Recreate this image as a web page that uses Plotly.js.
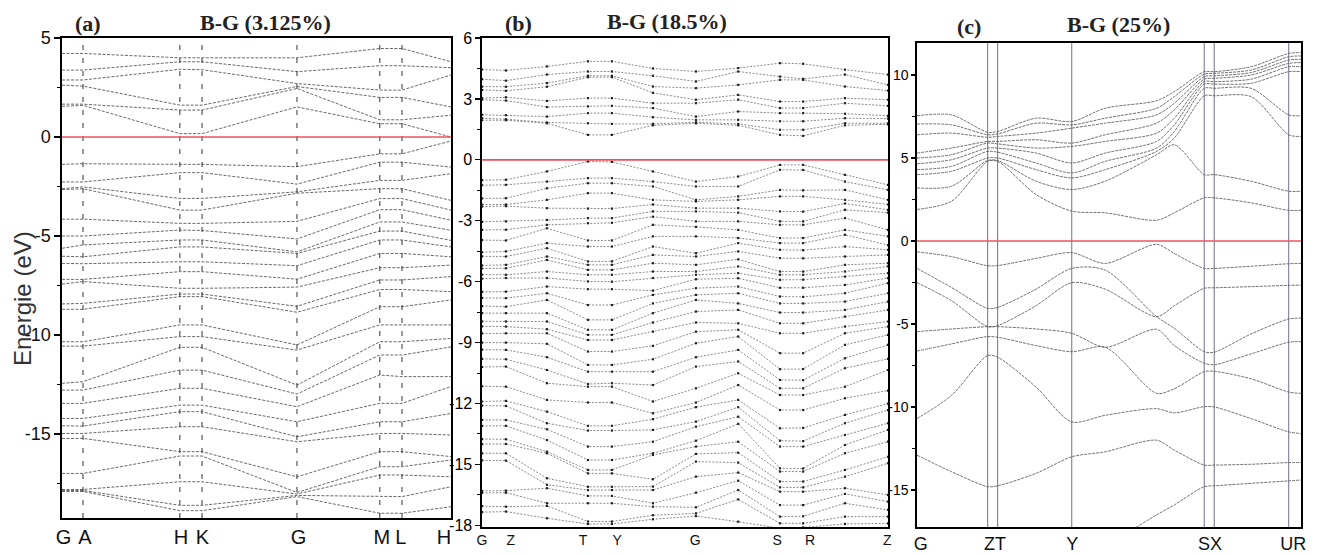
<!DOCTYPE html>
<html><head><meta charset="utf-8">
<script src="https://cdn.plot.ly/plotly-3.0.1.min.js"></script>
<style>html,body{margin:0;padding:0;background:#fff}#chart{width:1318px;height:555px}</style>
</head><body><div id="chart"></div>
<script>
// ---------------- DATA ----------------
const fermiLevel = 0;

// Panel (a)  B-G (3.125%)
const kA = [0, 0.054, 0.303, 0.360, 0.604, 0.817, 0.874, 1.0];
const labelPosA = [0.004, 0.059, 0.306, 0.361, 0.608, 0.822, 0.871, 0.982];
const labelsA = ['G','A','H','K','G','M','L','H'];
const eA_G1 = [4.22,3.38,2.88,2.62,1.66,1.55,-1.38,-2.27,-2.61,-2.66,-4.15,-5.0,-5.62,-6.02,-6.38,-7.19,-7.43,-8.43,-8.70,-10.34,-10.56,-12.44,-12.78,-13.45,-14.21,-14.58,-14.97,-15.22,-16.99,-17.8,-17.85,-17.9];
const eA_A  = [4.22,3.38,2.88,2.57,1.66,1.6,-1.35,-2.27,-2.52,-2.61,-4.15,-5.0,-5.45,-6.05,-6.4,-7.19,-7.3,-8.4,-8.7,-10.34,-10.56,-12.36,-12.78,-13.45,-14.21,-14.6,-14.97,-15.22,-16.99,-17.8,-17.85,-17.9];
const eA_H  = [4.0,3.8,3.42,1.61,1.36,0.17,-1.38,-1.8,-3.1,-3.69,-4.36,-4.7,-5.2,-5.55,-6.3,-6.8,-7.64,-7.93,-8.06,-9.49,-10.08,-10.62,-11.77,-12.69,-13.54,-13.87,-14.63,-15.89,-16.11,-17.41,-18.6,-18.87];
const eA_K  = [4.0,3.8,3.4,1.61,1.36,0.17,-1.38,-1.8,-3.1,-3.69,-4.36,-4.72,-5.2,-5.55,-6.3,-6.8,-7.64,-7.93,-8.06,-9.49,-10.08,-10.62,-11.77,-12.69,-13.54,-13.87,-14.63,-15.89,-16.11,-17.41,-18.6,-18.87];
const eA_G2 = [4.0,3.3,2.7,2.55,2.45,1.52,-1.5,-2.38,-2.77,-2.84,-4.26,-5.15,-5.8,-5.88,-6.5,-7.18,-7.58,-8.55,-8.85,-10.5,-10.76,-12.53,-12.98,-13.62,-14.38,-15.14,-15.39,-17.16,-17.95,-18.03,-18.1,-18.16];
const eA_M  = [4.47,3.6,2.37,2.0,0.87,0.67,-0.85,-1.27,-2.19,-2.61,-3.11,-3.67,-4.29,-4.75,-5.2,-5.88,-6.6,-7.22,-7.7,-8.57,-9.49,-10.34,-11.01,-12.02,-13.45,-14.38,-14.97,-15.89,-16.65,-17.07,-18.16,-19.0];
const eA_L  = [4.47,3.6,2.37,2.0,0.87,0.67,-0.85,-1.27,-2.19,-2.61,-3.11,-3.67,-4.29,-4.75,-5.2,-5.88,-6.6,-7.22,-7.7,-8.57,-9.49,-10.34,-11.01,-12.1,-13.45,-14.38,-14.97,-15.89,-16.65,-17.07,-18.16,-19.0];
const eA_H2 = [3.8,3.5,3.13,1.52,1.1,0.0,-0.2,-1.52,-1.85,-3.2,-3.69,-4.2,-4.71,-5.22,-5.55,-6.05,-6.47,-7.05,-7.81,-8.23,-9.49,-10.17,-10.6,-12.1,-12.6,-13.96,-15.05,-16.14,-16.31,-17.16,-17.66,-18.67];
const yTicksA = [5,0,-5,-10,-15];

// Panel (b)  B-G (18.5%)
const kB = [0, 0.059, 0.160, 0.261, 0.320, 0.421, 0.527, 0.631, 0.734, 0.791, 0.894, 1.0];
const labelPosB = [0, 0.071, 0.249, 0.333, 0.525, 0.727, 0.808, 0.998];
const labelsB = ['G','Z','T','Y','G','S','R','Z'];
const eB_G1 = [4.45,3.97,3.61,3.45,3.04,2.96,2.22,2.05,1.95,-1.0,-1.25,-1.9,-2.2,-2.3,-3.05,-3.45,-3.95,-4.55,-4.75,-5.2,-5.35,-5.65,-5.85,-6.5,-6.8,-7.2,-7.55,-7.95,-8.2,-8.55,-9.0,-9.35,-9.8,-10.2,-11.15,-11.9,-12.1,-12.8,-13.1,-13.75,-14.0,-14.45,-14.8,-16.3,-16.4,-17.05,-17.35];
const eB_Z1 = [4.4,3.9,3.6,3.4,3.08,2.92,2.2,2.0,1.95,-0.98,-1.23,-1.89,-2.2,-2.28,-3.03,-3.44,-3.97,-4.51,-4.76,-5.17,-5.34,-5.66,-5.82,-6.49,-6.81,-7.23,-7.55,-7.96,-8.21,-8.54,-9.0,-9.36,-9.82,-10.18,-11.17,-11.87,-12.12,-12.81,-13.1,-13.76,-13.99,-14.45,-14.81,-16.29,-16.39,-17.08,-17.32];
const eB_m1 = [4.6,4.2,3.78,3.6,2.9,2.6,2.13,1.84,1.8,-0.57,-1.07,-1.4,-1.97,-2.38,-2.96,-3.2,-3.37,-4.1,-4.35,-4.76,-4.93,-5.5,-5.82,-6.24,-6.57,-6.9,-7.55,-7.96,-8.34,-8.54,-9.06,-9.72,-10.35,-11.0,-11.82,-12.4,-12.97,-13.27,-13.8,-14.37,-14.45,-15.68,-16.0,-16.17,-16.91,-17.04,-17.65];
const eB_T  = [4.85,4.35,4.14,4.07,3.04,2.63,2.3,1.80,1.23,-0.08,-0.9,-1.15,-1.64,-2.4,-2.87,-3.12,-3.97,-4.27,-5.0,-5.17,-5.42,-5.66,-5.99,-6.37,-7.15,-7.88,-8.37,-8.62,-8.87,-9.44,-10.1,-10.43,-11.04,-11.17,-11.95,-13.1,-13.33,-14.12,-14.78,-15.27,-15.44,-16.1,-16.26,-16.55,-16.91,-17.81,-17.93];
const eB_Y  = [4.85,4.35,4.14,4.07,3.04,2.66,2.3,1.77,1.23,-0.1,-0.9,-1.15,-1.64,-2.4,-2.87,-3.1,-3.97,-4.27,-5.0,-5.17,-5.42,-5.66,-6.0,-6.37,-7.15,-7.88,-8.37,-8.62,-8.87,-9.44,-10.1,-10.43,-11.0,-11.17,-11.95,-13.1,-13.33,-14.12,-14.78,-15.27,-15.44,-16.1,-16.26,-16.55,-16.91,-17.81,-17.93];
const eB_m2 = [4.5,4.14,3.61,3.3,2.79,2.55,2.1,1.77,1.7,-0.57,-1.07,-1.31,-1.97,-2.2,-2.54,-2.8,-3.2,-3.77,-4.27,-4.68,-5.09,-5.5,-5.82,-6.44,-6.65,-7.07,-7.55,-8.01,-8.46,-9.16,-9.82,-10.43,-11.09,-11.9,-12.48,-12.77,-13.3,-13.88,-14.45,-14.53,-15.73,-16.09,-16.26,-16.91,-17.08,-17.5,-17.7];
const eB_G2 = [4.35,3.86,3.53,2.96,2.79,2.13,1.97,1.85,1.8,-1.07,-1.31,-1.97,-2.05,-2.38,-2.54,-3.03,-3.3,-3.77,-4.6,-4.76,-5.17,-5.5,-5.66,-5.88,-6.32,-6.65,-6.9,-7.47,-8.01,-8.46,-9.03,-9.72,-10.18,-11.25,-11.95,-12.18,-12.89,-13.14,-13.83,-14.12,-14.48,-14.86,-15.6,-16.39,-17.11,-17.41,-17.54];
const eB_m3 = [4.52,4.35,3.69,3.2,2.96,2.38,1.97,1.77,1.7,-0.82,-1.31,-1.8,-1.97,-2.38,-2.6,-3.03,-3.45,-3.85,-4.1,-4.51,-4.9,-5.25,-5.58,-5.83,-6.24,-6.57,-7.07,-7.39,-8.05,-8.37,-8.7,-9.36,-9.93,-10.51,-11.09,-11.82,-12.18,-12.65,-13.0,-13.88,-14.42,-14.91,-15.4,-15.8,-16.26,-16.72,-17.82];
const eB_S  = [4.76,4.1,3.94,2.87,2.55,2.3,1.9,1.48,1.23,-0.25,-0.49,-1.48,-1.8,-2.54,-3.03,-3.2,-3.85,-4.1,-4.43,-4.84,-5.5,-5.66,-5.91,-6.3,-6.73,-7.07,-7.52,-8.05,-8.54,-9.52,-10.31,-10.84,-11.25,-11.58,-12.32,-13.22,-13.83,-14.12,-15.19,-15.35,-15.84,-16.13,-16.34,-17.0,-17.57,-17.9,-18.14];
const eB_R  = [4.73,3.99,3.94,2.87,2.55,2.3,1.9,1.48,1.18,-0.25,-0.5,-1.5,-1.8,-2.55,-3.03,-3.2,-3.85,-4.1,-4.45,-4.85,-5.5,-5.66,-5.9,-6.3,-6.75,-7.07,-7.52,-8.05,-8.54,-9.52,-10.3,-10.85,-11.25,-11.58,-12.32,-13.2,-13.85,-14.12,-15.2,-15.35,-15.84,-16.13,-16.34,-17.0,-17.55,-17.9,-18.1];
const eB_m4 = [4.44,4.2,3.61,3.04,2.79,2.27,2.05,1.8,1.7,-0.74,-1.07,-1.48,-1.97,-2.15,-2.46,-2.87,-3.45,-3.69,-4.27,-4.76,-5.17,-5.5,-5.75,-6.16,-6.57,-6.98,-7.39,-7.72,-8.21,-8.54,-9.11,-9.77,-10.26,-11.17,-11.74,-12.56,-12.97,-13.55,-14.04,-14.45,-15.27,-15.6,-16.17,-16.45,-16.91,-17.57,-17.93];
const eB_Z2 = [4.2,3.69,3.41,2.96,2.66,2.17,2.03,1.8,1.75,-1.23,-1.48,-1.97,-2.2,-2.46,-2.6,-3.45,-3.77,-4.2,-4.43,-4.68,-5.09,-5.25,-5.58,-5.82,-6.07,-6.57,-6.98,-7.39,-7.96,-8.21,-8.62,-9.11,-9.8,-10.35,-11.36,-12.0,-12.32,-12.97,-13.3,-13.88,-14.62,-14.94,-16.5,-16.83,-17.24,-17.57,-17.9];
const yTicksB = [6,3,0,-3,-6,-9,-12,-15,-18];

// Panel (c)  B-G (25%)
const kC = [0, 0.09, 0.184, 0.21, 0.31, 0.403, 0.49, 0.624, 0.67, 0.748, 0.774, 0.87, 0.968, 1.0];
const symPtsC = [0.184, 0.21, 0.403, 0.748, 0.774, 0.968];
const labelPosC = [0.01, 0.203, 0.404, 0.763, 0.98];
const labelsC = ['G','ZT','Y','SX','UR'];
const eC_G   = [7.55,7.05,6.4,5.3,5.0,4.65,4.3,4.0,3.2,1.9];
const eC_k1  = [7.6,7.0,6.5,5.6,5.2,4.9,4.5,4.2,3.3,2.4];
const eC_Z   = [6.55,6.4,6.25,6.0,5.9,5.6,5.4,5.0,4.85,4.8];
const eC_T   = [6.6,6.45,6.3,6.0,5.85,5.6,5.35,5.0,4.85,4.8];
const eC_k4  = [7.4,7.1,6.5,6.1,5.6,5.3,4.7,4.3,3.6,2.8];
const eC_Y   = [7.2,7.0,6.8,5.9,5.7,4.7,4.1,3.8,3.1,1.8];
const eC_k6  = [8.0,7.4,7.1,6.4,6.0,5.3,4.8,4.3,3.6,1.7];
const eC_k7  = [8.45,8.0,7.6,7.1,6.5,6.0,5.6,5.4,5.2,1.25];
const eC_k8  = [9.0,8.7,8.3,7.9,7.4,7.0,6.6,6.2,5.8,1.7];
const eC_S   = [10.2,10.05,9.9,9.75,9.6,9.45,9.2,8.75,4.0,2.6];
const eC_X   = [10.2,10.1,9.95,9.8,9.6,9.45,9.2,8.75,4.0,2.6];
const eC_k11 = [10.5,10.3,10.15,10.0,9.75,9.5,9.2,8.7,3.6,2.3];
const eC_U   = [11.3,11.1,10.9,10.7,10.5,10.2,7.6,6.4,3.0,1.85];
const eC_R   = [11.35,11.15,10.95,10.75,10.5,10.2,7.55,6.3,3.0,1.85];
const vC1 = [-0.65,-0.94,-1.49,-1.48,-1.05,-0.7,-1.35,-0.2,-0.75,-1.65,-1.65,-1.52,-1.37,-1.35];
const vC2 = [-1.65,-2.8,-4.06,-4.0,-2.9,-1.65,-1.75,-4.56,-5.26,-6.67,-6.7,-5.6,-4.7,-4.65];
const vC3 = [-2.51,-3.6,-5.16,-5.1,-3.9,-2.51,-2.9,-4.56,-3.9,-2.85,-2.82,-2.75,-2.67,-2.66];
const vC4 = [-5.46,-5.3,-5.16,-5.16,-5.3,-5.56,-6.4,-5.32,-6.3,-7.37,-7.45,-6.8,-6.1,-6.06];
const vC5 = [-6.63,-6.2,-5.76,-5.8,-6.3,-6.67,-6.4,-9.18,-8.9,-7.87,-7.85,-8.3,-9.1,-9.18];
const vC6 = [-10.7,-9.3,-6.9,-7.0,-8.8,-10.9,-10.5,-10.1,-10.35,-9.98,-10.0,-10.7,-11.5,-11.6];
const vC7 = [-12.9,-13.9,-14.8,-14.75,-14.0,-13.0,-12.7,-12.0,-12.6,-13.5,-13.5,-13.45,-13.35,-13.35];
const vC8 = [null,null,null,null,null,null,-18.4,-16.5,-15.9,-14.8,-14.75,-14.6,-14.45,-14.4];
const yTicksC = [10,5,0,-5,-10,-15];

// ---------------- BUILD ----------------
const W = 1318, H = 555;
const xd = (l, r) => [l / W, r / W];
const yd = (t, b) => [1 - b / H, 1 - t / H];
const bandsFromCols = cols => cols[0].map((_, i) => cols.map(c => c[i]));

const colsA = [eA_G1, eA_A, eA_H, eA_K, eA_G2, eA_M, eA_L, eA_H2];
const colsB = [eB_G1, eB_Z1, eB_m1, eB_T, eB_Y, eB_m2, eB_G2, eB_m3, eB_S, eB_R, eB_m4, eB_Z2];
const colsC = [eC_G, eC_k1, eC_Z, eC_T, eC_k4, eC_Y, eC_k6, eC_k7, eC_k8, eC_S, eC_X, eC_k11, eC_U, eC_R];

const traces = [];
bandsFromCols(colsA).forEach(b => traces.push({
  x: kA, y: b, xaxis: 'x', yaxis: 'y', mode: 'lines', hoverinfo: 'skip',
  line: {color: 'rgba(55,55,55,0.75)', width: 1, dash: '3px,1.5px'}
}));
bandsFromCols(colsB).forEach(b => traces.push({
  x: kB, y: b, xaxis: 'x2', yaxis: 'y2', mode: 'lines+markers', hoverinfo: 'skip',
  line: {color: 'rgba(70,70,70,0.7)', width: 0.9, dash: '2px,1.5px'},
  marker: {size: 2.2, color: '#222', symbol: 'square'}
}));
bandsFromCols(colsC).concat([vC1, vC2, vC3, vC4, vC5, vC6, vC7, vC8]).forEach(b => traces.push({
  x: kC, y: b, xaxis: 'x3', yaxis: 'y3', mode: 'lines', hoverinfo: 'skip',
  line: {color: 'rgba(80,80,80,0.8)', width: 1, dash: '3px,1px', shape: 'spline', smoothing: 0.8}
}));

const shapes = [];
['x', 'x2', 'x3'].forEach((ax, i) => {
  const yax = ['y', 'y2', 'y3'][i];
  shapes.push({type: 'line', xref: ax + ' domain', x0: 0, x1: 1, yref: yax, y0: fermiLevel, y1: fermiLevel,
    line: {color: 'rgb(240,80,95)', width: 1.6}, layer: 'above'});
});
kA.slice(1, -1).forEach(k => shapes.push({type: 'line', xref: 'x', x0: k, x1: k, yref: 'y domain', y0: 0, y1: 1,
  line: {color: '#333', width: 1, dash: '5px,8px'}, layer: 'below'}));
symPtsC.forEach(k => shapes.push({type: 'line', xref: 'x3', x0: k, x1: k, yref: 'y3 domain', y0: 0, y1: 1,
  line: {color: '#6f7088', width: 1}, layer: 'below'}));

const sans = 'Liberation Sans, Arial, sans-serif';
const narrow = 'Liberation Sans Narrow, Liberation Sans, Arial, sans-serif';
function yAxis(domain, range, ticks, minorStep, anchor, font, ticklen) {
  return {domain, range, anchor, tickmode: 'array', tickvals: ticks, ticktext: ticks.map(String),
    ticks: 'outside', ticklen, tickwidth: 1.3, tickcolor: '#000',
    minor: {tickmode: 'linear', tick0: 0, dtick: minorStep, ticks: 'outside', ticklen: 3, tickcolor: '#000', tickwidth: 1},
    showline: true, mirror: true, linecolor: '#000', linewidth: 1.6, showgrid: false, zeroline: false,
    tickfont: font, fixedrange: true};
}
function xAxis(domain, tv, tt, anchor, size) {
  return {domain, range: [0, 1], anchor, tickmode: 'array', tickvals: tv, ticktext: tt, ticks: '',
    showline: true, mirror: true, linecolor: '#000', linewidth: 1.6, showgrid: false, zeroline: false,
    tickfont: {family: sans, size, color: '#111'}, fixedrange: true};
}

const serif = {family: 'Liberation Serif, Times New Roman, serif', size: 22, color: '#222'};
const ann = (x, y, text, font, extra) => Object.assign({xref: 'paper', yref: 'paper', x: x / W, y: 1 - y / H,
  text, showarrow: false, xanchor: 'center', yanchor: 'middle', font}, extra || {});

const layout = {
  width: W, height: H, margin: {l: 0, r: 0, t: 0, b: 0},
  paper_bgcolor: '#fff', plot_bgcolor: '#fff', showlegend: false,
  xaxis: xAxis(xd(62, 451), labelPosA, labelsA, 'y', 20),
  yaxis: yAxis(yd(38, 518), [-19.24, 5.0], yTicksA, 2.5, 'x', {family: narrow, size: 18, color: '#111'}, 6),
  xaxis2: xAxis(xd(482, 888), labelPosB, labelsB, 'y2', 14),
  yaxis2: yAxis(yd(38, 527), [-18.08, 6.0], yTicksB, 1.5, 'x2', {family: sans, size: 16, color: '#000'}, 5),
  xaxis3: xAxis(xd(917, 1301), labelPosC, labelsC, 'y3', 18),
  yaxis3: yAxis(yd(43, 527), [-17.23, 11.93], yTicksC, 2.5, 'x3', {family: sans, size: 14, color: '#000'}, 4),
  shapes,
  annotations: [
    ann(88, 23, '<b>(a)</b>', serif),
    ann(265, 22, '<b>B-G (3.125%)</b>', serif),
    ann(518, 23, '<b>(b)</b>', serif),
    ann(667, 21, '<b>B-G (18.5%)</b>', serif),
    ann(969, 27, '<b>(c)</b>', serif),
    ann(1118, 25, '<b>B-G (25%)</b>', serif),
    ann(22, 299, 'Energie (eV)', {family: sans, size: 24, color: '#333'}, {textangle: -90})
  ]
};

Plotly.newPlot('chart', traces, layout, {staticPlot: true, displayModeBar: false});
</script>
</body></html>
